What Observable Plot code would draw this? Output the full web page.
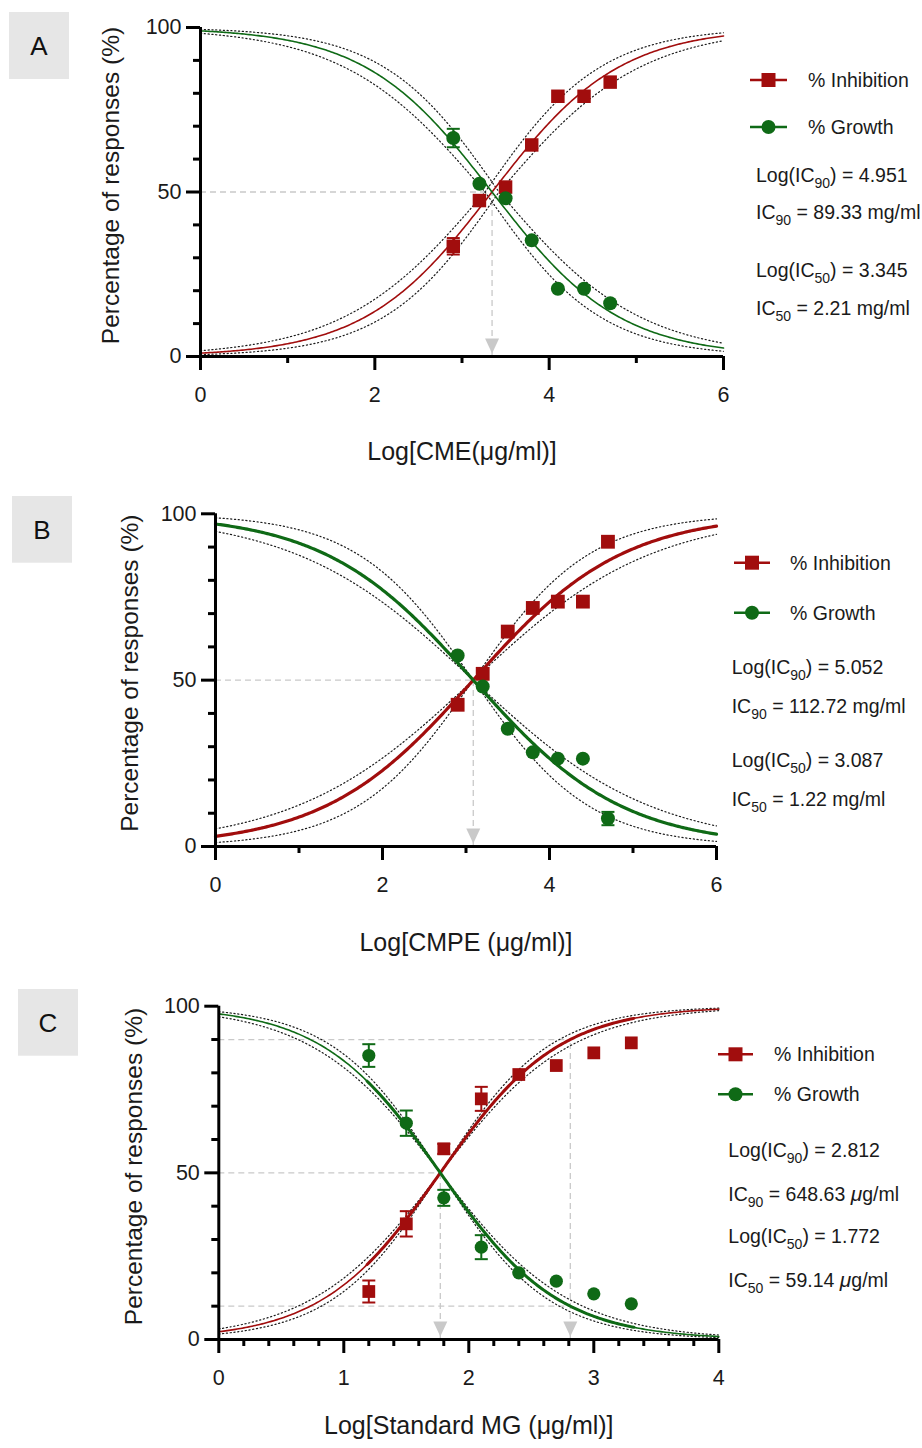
<!DOCTYPE html>
<html>
<head>
<meta charset="utf-8">
<script src="https://cdn.jsdelivr.net/npm/d3@7"></script>
<script src="https://cdn.jsdelivr.net/npm/@observablehq/plot@0.6"></script>
<style>
  html, body { margin: 0; padding: 0; background: #fff; }
  #page { position: relative; width: 922px; height: 1448px; overflow: hidden;
          font-family: "Liberation Sans", Arial, sans-serif; }
  #page > svg { position: absolute; left: 0; }
</style>
</head>
<body>
<div id="page"></div>
<script>
// Dose–response of the extracts: % inhibition and % growth (mean ± SEM)
// against log concentration, with the fitted sigmoid and its 95% band.

// ---- Panel A: CME ----
const concA = [2.9, 3.2, 3.5, 3.8, 4.1, 4.4, 4.7];
const inhibitionA = [33.5, 47.4, 51.5, 64.3, 79.1, 79.1, 83.4];
const inhibitionErrA = [2.5, 0, 0, 0, 0, 0, 0];
const growthA = [66.4, 52.5, 48.1, 35.3, 20.6, 20.6, 16.2];
const growthErrA = [2.8, 0, 0, 0, 0, 0, 0];
const logIC90A = 4.951, logIC50A = 3.345;
const statsA = ["4.951", "89.33 mg/ml", "3.345", "2.21 mg/ml"];
const xTicksA = [0, 2, 4, 6], xMinorA = [1, 3, 5];

// ---- Panel B: CMPE ----
const concB = [2.9, 3.2, 3.5, 3.8, 4.1, 4.4, 4.7];
const inhibitionB = [42.6, 51.9, 64.6, 71.7, 73.6, 73.6, 91.6];
const inhibitionErrB = [0, 0, 0, 0, 0, 0, 0];
const growthB = [57.4, 48.1, 35.4, 28.3, 26.4, 26.4, 8.4];
const growthErrB = [0, 0, 0, 0, 0, 0, 2.0];
const logIC90B = 5.052, logIC50B = 3.087;
const statsB = ["5.052", "112.72 mg/ml", "3.087", "1.22 mg/ml"];
const xTicksB = [0, 2, 4, 6], xMinorB = [1, 3, 5];

// ---- Panel C: Standard MG ----
const concC = [1.2, 1.5, 1.8, 2.1, 2.4, 2.7, 3.0, 3.3];
const inhibitionC = [14.4, 34.7, 57.2, 72.2, 79.5, 82.2, 86.0, 89.0];
const inhibitionErrC = [3.3, 3.8, 1.5, 3.6, 0, 0, 0, 0];
const growthC = [85.2, 64.9, 42.5, 27.7, 20.0, 17.5, 13.7, 10.7];
const growthErrC = [3.4, 3.8, 2.4, 3.6, 0, 0, 0, 0];
const logIC90C = 2.812, logIC50C = 1.772;
const statsC = ["2.812", "648.63", "1.772", "59.14"];
const xTicksC = [0, 1, 2, 3, 4];
const xMinorC = [0.2, 0.4, 0.6, 0.8, 1.2, 1.4, 1.6, 1.8, 2.2, 2.4, 2.6, 2.8, 3.2, 3.4, 3.6, 3.8];

const yTicks = [0, 50, 100];
const yMinor = [10, 20, 30, 40, 60, 70, 80, 90];
const yTitle = "Percentage of responses (%)";
const seriesNames = ["% Inhibition", "% Growth"];

const RED = "#a10d0d";
const GREEN = "#0f6a16";
const GUIDE = "#c9c9c9";
const FONT = "'Liberation Sans', Arial, sans-serif";

const page = document.getElementById("page");

// four-parameter logistic with bottom 0 and top 100
const logistic = (x, L, h) => 100 / (1 + Math.pow(10, (L - x) * h));

// downward arrowhead whose tip sits on the data point
const arrowHead = {draw(ctx) { ctx.moveTo(-7, -15); ctx.lineTo(7, -15); ctx.lineTo(0, 0); ctx.closePath(); }};
// horizontal cap for the error bars
const cap = {draw(ctx) { ctx.moveTo(-6.5, 0); ctx.lineTo(6.5, 0); }};

function drawPanel(p) {
  const hill = Math.log10(9) / (p.logIC90 - p.logIC50);
  const hLo = hill - p.band.dhLo, hHi = hill + p.band.dhHi;
  const n = 300;
  const fit = d3.range(n + 1).map(i => {
    const x = p.xMax * i / n;
    const vals = [];
    for (const L of [p.logIC50 - p.band.dL, p.logIC50 + p.band.dL])
      for (const h of [hLo, hHi]) vals.push(logistic(x, L, h));
    const y = logistic(x, p.logIC50, hill);
    return {x, inhib: y, growth: 100 - y,
            inhibLo: d3.min(vals), inhibHi: d3.max(vals),
            growthLo: 100 - d3.max(vals), growthHi: 100 - d3.min(vals)};
  });
  const pts = p.conc.flatMap((x, i) => [
    {x, y: p.inhibition[i], err: p.inhibitionErr[i], s: "inhib"},
    {x, y: p.growth[i], err: p.growthErr[i], s: "growth"}
  ]);
  const errs = pts.filter(d => d.err > 0);
  const col = d => d.s === "inhib" ? RED : GREEN;
  const dotted = {stroke: "#1c1c1c", strokeWidth: 1.2, strokeDasharray: "1.2 2.6"};
  const dashed = {stroke: GUIDE, strokeWidth: 1.3, strokeDasharray: "6 4"};
  const [c0, c1] = d3.extent(p.conc);
  const core = fit.filter(d => d.x >= c0 - 0.02 && d.x <= c1 + 0.02);

  const marks = [
    // guide lines at the IC50 (and IC90 where shown)
    Plot.ruleY([50], {x1: 0, x2: p.logIC50, ...dashed}),
    Plot.ruleX([p.logIC50], {y1: 0, y2: 50, ...dashed}),
    Plot.dot([p.logIC50], {x: d => d, y: 0, symbol: arrowHead, fill: GUIDE, stroke: "none", dy: -3})
  ];
  if (p.showIC90) {
    marks.push(
      Plot.ruleY([90], {x1: 0, x2: p.logIC90, ...dashed}),
      Plot.ruleY([10], {x1: 0, x2: p.logIC90, ...dashed}),
      Plot.ruleX([p.logIC90], {y1: 0, y2: 90, ...dashed}),
      Plot.dot([p.logIC90], {x: d => d, y: 0, symbol: arrowHead, fill: GUIDE, stroke: "none", dy: -3})
    );
  }
  marks.push(
    // confidence bands
    Plot.line(fit, {x: "x", y: "inhibLo", ...dotted}),
    Plot.line(fit, {x: "x", y: "inhibHi", ...dotted}),
    Plot.line(fit, {x: "x", y: "growthLo", ...dotted}),
    Plot.line(fit, {x: "x", y: "growthHi", ...dotted}),
    // fitted curves
    Plot.line(fit, {x: "x", y: "inhib", stroke: RED, strokeWidth: p.curveWidth}),
    Plot.line(fit, {x: "x", y: "growth", stroke: GREEN, strokeWidth: p.curveWidth})
  );
  if (p.thickCore) {
    marks.push(
      Plot.line(core, {x: "x", y: "inhib", stroke: RED, strokeWidth: 3}),
      Plot.line(core, {x: "x", y: "growth", stroke: GREEN, strokeWidth: 3})
    );
  }
  marks.push(
    // axes
    Plot.ruleY([0], {stroke: "#000", strokeWidth: 3}),
    Plot.ruleX([0], {stroke: "#000", strokeWidth: 3}),
    Plot.axisY(yTicks, {tickSize: 14, tickPadding: p.yPad, fontSize: 21.5, strokeWidth: 3,
      stroke: "#000", fill: "#1a1a1a", label: null, tickFormat: d => String(d)}),
    Plot.axisY(yMinor, {tickSize: 7, strokeWidth: 3, stroke: "#000", label: null, tickFormat: () => ""}),
    Plot.axisX(p.xTicks, {tickSize: 14, tickPadding: 16, fontSize: 21.5, strokeWidth: 3,
      stroke: "#000", fill: "#1a1a1a", label: null, tickFormat: d => String(d)}),
    Plot.axisX(p.xMinor, {tickSize: 7, strokeWidth: 3, stroke: "#000", label: null, tickFormat: () => ""}),
    // error bars
    Plot.ruleX(errs, {x: "x", y1: d => d.y - d.err, y2: d => d.y + d.err, stroke: col, strokeWidth: 2}),
    Plot.dot(errs, {x: "x", y: d => d.y - d.err, symbol: cap, stroke: col, fill: "none", strokeWidth: 2}),
    Plot.dot(errs, {x: "x", y: d => d.y + d.err, symbol: cap, stroke: col, fill: "none", strokeWidth: 2}),
    // data points
    Plot.dot(pts.filter(d => d.s === "inhib"), {x: "x", y: "y", symbol: "square", r: p.sq, fill: RED, stroke: "none"}),
    Plot.dot(pts.filter(d => d.s === "growth"), {x: "x", y: "y", symbol: "circle", r: p.ci, fill: GREEN, stroke: "none"}),
    // axis titles
    Plot.text([p.xTitle], {text: d => d, frameAnchor: "bottom", textAnchor: "middle", dy: p.xTitleDy, fontSize: 25, fill: "#1a1a1a"}),
    Plot.text([yTitle], {text: d => d, frameAnchor: "left", textAnchor: "middle", rotate: -90,
      dx: p.yTitleDx, dy: p.yTitleDy, fontSize: 24.5, fill: "#1a1a1a"})
  );

  const svg = Plot.plot({
    width: 922, height: p.height,
    marginTop: p.m[0], marginRight: p.m[1], marginBottom: p.m[2], marginLeft: p.m[3],
    x: {domain: [0, p.xMax]},
    y: {domain: [0, 100]},
    style: {fontFamily: FONT, background: "transparent", overflow: "visible"},
    marks
  });
  svg.style.top = p.top + "px";
  page.append(svg);
}

drawPanel({
  top: 0, height: 480, m: [27, 199, 124, 200], xMax: 6,
  conc: concA, inhibition: inhibitionA, inhibitionErr: inhibitionErrA,
  growth: growthA, growthErr: growthErrA, logIC50: logIC50A, logIC90: logIC90A,
  band: {dL: 0.08, dhLo: 0.06, dhHi: 0.06}, curveWidth: 1.6, thickCore: false, showIC90: false,
  xTicks: xTicksA, xMinor: xMinorA, yPad: 5, sq: 7.6, ci: 7,
  xTitle: "Log[CME(μg/ml)]", xTitleDy: 103, yTitleDx: -89.5, yTitleDy: -6.5
});
drawPanel({
  top: 480, height: 480, m: [33.3, 206, 114, 215], xMax: 6,
  conc: concB, inhibition: inhibitionB, inhibitionErr: inhibitionErrB,
  growth: growthB, growthErr: growthErrB, logIC50: logIC50B, logIC90: logIC90B,
  band: {dL: 0, dhLo: 0.08, dhHi: 0.135}, curveWidth: 3.2, thickCore: false, showIC90: false,
  xTicks: xTicksB, xMinor: xMinorB, yPad: 5, sq: 7.8, ci: 7,
  xTitle: "Log[CMPE (μg/ml)]", xTitleDy: 104, yTitleDx: -85, yTitleDy: -7
});
drawPanel({
  top: 960, height: 488, m: [45.7, 203.7, 109, 218.3], xMax: 4,
  conc: concC, inhibition: inhibitionC, inhibitionErr: inhibitionErrC,
  growth: growthC, growthErr: growthErrC, logIC50: logIC50C, logIC90: logIC90C,
  band: {dL: 0, dhLo: 0.08, dhHi: 0.085}, curveWidth: 1.6, thickCore: true, showIC90: true,
  xTicks: xTicksC, xMinor: xMinorC, yPad: 5, sq: 7.2, ci: 6.6,
  xTitle: "Log[Standard MG (μg/ml)]", xTitleDy: 94, yTitleDx: -85, yTitleDy: -6.3
});

// ---- panel tags and legends ----
const overlay = d3.select(page).append("svg")
  .attr("width", 922).attr("height", 1448)
  .style("top", "0px").style("pointer-events", "none")
  .attr("font-family", FONT);

const tags = [
  {t: "A", x: 9, y: 12, w: 60, h: 67},
  {t: "B", x: 12, y: 496, w: 60, h: 66.7},
  {t: "C", x: 18, y: 989, w: 60, h: 66.7}
];
for (const g of tags) {
  overlay.append("rect").attr("x", g.x).attr("y", g.y).attr("width", g.w).attr("height", g.h).attr("fill", "#e6e6e6");
  overlay.append("text").attr("x", g.x + g.w / 2).attr("y", g.y + g.h / 2 + 9.3)
    .attr("text-anchor", "middle").attr("font-size", 26).attr("fill", "#111").text(g.t);
}

const legends = [
  {lx: [750, 787], ly: [80, 127], tx: 808, sx: 756, sy: [175, 211.7, 270, 308.3], stats: statsA, mu: false},
  {lx: [734, 770], ly: [562.7, 612.7], tx: 790, sx: 731.7, sy: [667.5, 706, 760, 799], stats: statsB, mu: false},
  {lx: [718, 753], ly: [1054.3, 1094.3], tx: 774, sx: 728.3, sy: [1150.3, 1193.7, 1236.3, 1279.7], stats: statsC, mu: true}
];
const FS = 19.5, base = 0.358 * FS;
for (const g of legends) {
  const cx = (g.lx[0] + g.lx[1]) / 2;
  [RED, GREEN].forEach((c, i) => {
    overlay.append("line").attr("x1", g.lx[0]).attr("x2", g.lx[1]).attr("y1", g.ly[i]).attr("y2", g.ly[i])
      .attr("stroke", c).attr("stroke-width", 2.6);
    if (i === 0) overlay.append("rect").attr("x", cx - 7).attr("y", g.ly[i] - 7).attr("width", 14).attr("height", 14).attr("fill", c);
    else overlay.append("circle").attr("cx", cx).attr("cy", g.ly[i]).attr("r", 7).attr("fill", c);
    overlay.append("text").attr("x", g.tx).attr("y", g.ly[i] + base).attr("font-size", FS)
      .attr("fill", "#1a1a1a").text(seriesNames[i]);
  });
  const lines = [
    ["Log(IC", "90", ") = " + g.stats[0]],
    ["IC", "90", " = " + g.stats[1]],
    ["Log(IC", "50", ") = " + g.stats[2]],
    ["IC", "50", " = " + g.stats[3]]
  ];
  lines.forEach((parts, i) => {
    const t = overlay.append("text").attr("x", g.sx).attr("y", g.sy[i] + base)
      .attr("font-size", FS).attr("fill", "#1a1a1a");
    t.append("tspan").text(parts[0]);
    t.append("tspan").attr("dy", 6).attr("font-size", 14).text(parts[1]);
    t.append("tspan").attr("dy", -6).text(parts[2]);
    if (g.mu && (i === 1 || i === 3)) {
      t.append("tspan").text(" ");
      t.append("tspan").attr("font-style", "italic").attr("font-size", 21).text("μ");
      t.append("tspan").text("g/ml");
    }
  });
}
</script>
</body>
</html>
